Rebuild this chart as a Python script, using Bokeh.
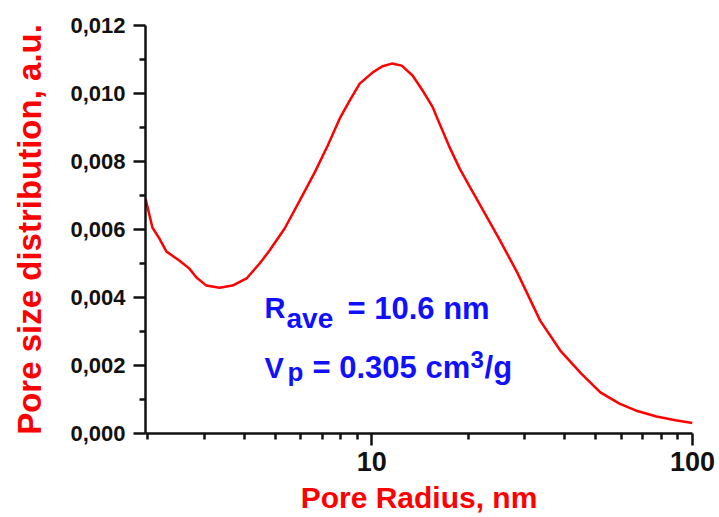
from bokeh.plotting import figure
from bokeh.models import FixedTicker, Label
from bokeh.embed import file_html
from bokeh.resources import INLINE

# ---- data ----
pore_radius_nm = [1.97, 2.07, 2.175, 2.29, 2.51, 2.70, 2.84, 3.05, 3.35, 3.68, 4.07, 4.47,
                  4.8, 5.35, 5.96, 6.64, 7.29, 7.94, 8.54, 9.17, 10.07, 10.8, 11.55, 12.4,
                  13.4, 14.4, 15.5, 16.1, 17.4, 18.8, 20.2, 21.8, 25.1, 28.4, 33.5, 38.7,
                  45.0, 51.6, 59.2, 67.3, 77.2, 88.5, 100.0]
psd_au = [0.00691, 0.00606, 0.00574, 0.00535, 0.00509, 0.00485, 0.00459, 0.00435, 0.00429,
          0.00435, 0.00456, 0.00500, 0.00538, 0.00603, 0.00685, 0.00768, 0.00847, 0.00926,
          0.00980, 0.01029, 0.01062, 0.01080, 0.01088, 0.01082, 0.01053, 0.01009, 0.00959,
          0.00921, 0.00846, 0.00779, 0.00726, 0.00671, 0.00568, 0.00474, 0.00332, 0.00244,
          0.00176, 0.00121, 0.00088, 0.00066, 0.00050, 0.00039, 0.00031]

x_major_ticks = [10, 100]
x_major_labels = ["10", "100"]
x_minor_ticks = [2, 3, 4, 5, 6, 7, 8, 9, 20, 30, 40, 50, 60, 70, 80, 90]
y_major_ticks = [0.0, 0.002, 0.004, 0.006, 0.008, 0.010, 0.012]
y_major_labels = ["0,000", "0,002", "0,004", "0,006", "0,008", "0,010", "0,012"]
y_minor_ticks = [0.001, 0.003, 0.005, 0.007, 0.009, 0.011]

x_title = "Pore Radius, nm"
y_title = "Pore size distribution, a.u."

FONT = "Liberation Sans"
RED = "#ff0000"
BLUE = "#1010ff"

p = figure(width=719, height=517, x_axis_type="log",
           x_range=(1.97, 100), y_range=(0, 0.012),
           output_backend="svg", toolbar_location=None,
           min_border_left=145, min_border_right=27,
           min_border_top=25, min_border_bottom=84)
p.outline_line_color = None
p.grid.visible = False
p.background_fill_color = "white"
p.border_fill_color = "white"

p.line(pore_radius_nm, psd_au, line_color=RED, line_width=2.5)

# axes
for ax in (p.xaxis[0], p.yaxis[0]):
    ax.axis_line_width = 2.5
    ax.axis_line_color = "#111111"
    ax.major_tick_line_width = 2.5
    ax.minor_tick_line_width = 2.5
    ax.major_tick_line_color = "#111111"
    ax.minor_tick_line_color = "#111111"
    ax.major_tick_out = 12
    ax.major_tick_in = 0
    ax.minor_tick_out = 6
    ax.minor_tick_in = 0
    ax.major_label_text_font = FONT
    ax.major_label_text_font_style = "bold"
    ax.major_label_text_color = "#111111"
    ax.axis_label_text_font = FONT
    ax.axis_label_text_font_style = "bold"
    ax.axis_label_text_color = RED

p.xaxis.ticker = FixedTicker(ticks=x_major_ticks, minor_ticks=x_minor_ticks)
p.xaxis.major_label_overrides = {t: s for t, s in zip(x_major_ticks, x_major_labels)}
p.xaxis.major_label_text_font_size = "27px"
p.xaxis.major_label_standoff = 6
p.xaxis.axis_label = x_title
p.xaxis.axis_label_text_font_size = "30px"
p.xaxis.axis_label_standoff = 7

p.yaxis.ticker = FixedTicker(ticks=y_major_ticks, minor_ticks=y_minor_ticks)
p.yaxis.major_label_overrides = {t: s for t, s in zip(y_major_ticks, y_major_labels)}
p.yaxis.major_label_text_font_size = "22px"
p.yaxis.major_label_standoff = 8
p.yaxis.axis_label = y_title
p.yaxis.axis_label_text_font_size = "33px"
p.yaxis.axis_label_standoff = 19

# annotations
def lab(x, y, text, size, xo=0, yo=0):
    p.add_layout(Label(x=x, y=y, x_offset=xo, y_offset=yo, text=text,
                       text_font=FONT, text_font_style="bold",
                       text_font_size=size, text_color=BLUE,
                       text_baseline="alphabetic", text_align="left"))

x0 = 4.63
y1 = 0.00368
y2 = 0.00194
lab(x0, y1, "R", "29px")
lab(x0, y1, "ave", "28px", xo=22, yo=-10)
lab(x0, y1, "= 10.6 nm", "31px", xo=83)
lab(x0, y2, "V", "29px")
lab(x0, y2, "p", "26px", xo=23, yo=-4)
lab(x0, y2, "= 0.305 cm", "31px", xo=48)
lab(x0, y2, "3", "24px", xo=206, yo=8)
lab(x0, y2, "/g", "31px", xo=220)

open("out.html", "w").write(file_html(p, INLINE))
